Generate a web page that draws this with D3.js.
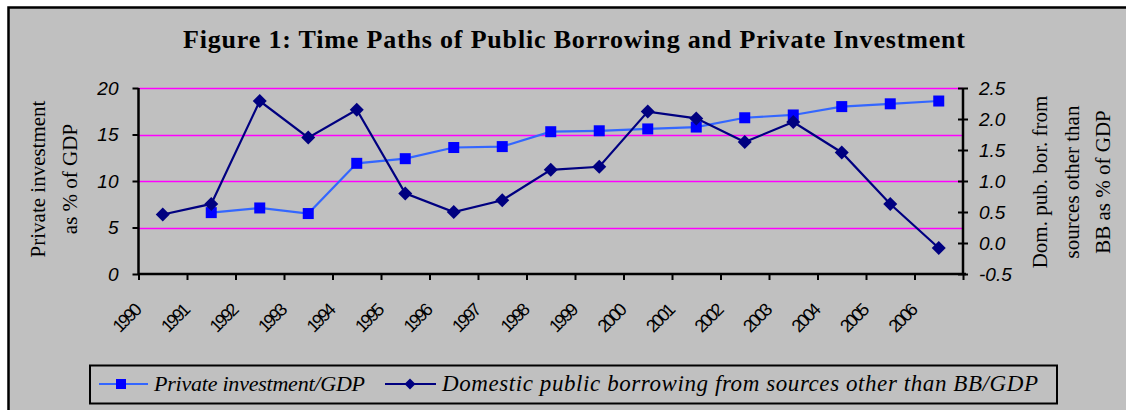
<!DOCTYPE html>
<html>
<head>
<meta charset="utf-8">
<script src="https://cdn.jsdelivr.net/npm/d3@7"></script>
<style>
  body { margin: 0; background: #ffffff; }
  svg { display: block; }
</style>
</head>
<body>
<div id="chart"></div>
<script>
// data
const years = ["1990", "1991", "1992", "1993", "1994", "1995", "1996", "1997", "1998",
  "1999", "2000", "2001", "2002", "2003", "2004", "2005", "2006"]
const privateInv = [null, 6.6, 7.1, 6.5, 11.9, 12.4, 13.6, 13.7, 15.3,
  15.4, 15.6, 15.8, 16.8, 17.1, 18.0, 18.3, 18.6]
const domBorrow = [0.46, 0.63, 2.29, 1.70, 2.15, 0.80, 0.50, 0.69, 1.18,
  1.23, 2.12, 2.01, 1.63, 1.95, 1.46, 0.63, -0.08]
const leftTicks = [0, 5, 10, 15, 20]
const rightTicks = [-0.5, 0, 0.5, 1.0, 1.5, 2.0, 2.5]

const W = 1126, H = 410
const plot = {left: 138.5, right: 963, top: 88, bottom: 274}

const svg = d3.select("#chart")
    .append("svg")
    .attr("width", W)
    .attr("height", H)

// chart area
svg.append("rect")
    .attr("x", 8.5).attr("y", 7.5)
    .attr("width", 1140).attr("height", 420)
    .attr("fill", "#c0c0c0")
    .attr("stroke", "#000").attr("stroke-width", 2.5)

const serif = "'Liberation Serif', 'Times New Roman', serif"

svg.append("text")
    .attr("x", 574).attr("y", 48)
    .attr("text-anchor", "middle")
    .attr("textLength", 782)
    .style("font-family", serif)
    .style("font-weight", "bold")
    .style("font-size", "26px")
    .text("Figure 1: Time Paths of Public Borrowing and Private Investment")

const x = d3.scaleBand().domain(years).range([plot.left, plot.right])
const xi = d3.scaleLinear().domain([0, years.length]).range([plot.left, plot.right])
const yL = d3.scaleLinear().domain([0, 20]).range([plot.bottom, plot.top])
const yR = d3.scaleLinear().domain([-0.5, 2.5]).range([plot.bottom, plot.top])

// gridlines
svg.append("g")
    .selectAll("line")
    .data(leftTicks.filter(d => d > 0))
    .enter()
    .append("line")
    .attr("x1", plot.left).attr("x2", plot.right)
    .attr("y1", d => Math.round(yL(d)) + 0.5).attr("y2", d => Math.round(yL(d)) + 0.5)
    .attr("stroke", "#ff00ff").attr("stroke-width", 1.5)

const tickFont = "'Liberation Sans', Arial, sans-serif"

const gL = svg.append("g")
    .attr("transform", `translate(${plot.left},0)`)
    .call(d3.axisLeft(yL).tickValues(leftTicks).tickSize(6).tickPadding(14).tickFormat(d3.format("d")))
gL.select(".domain").attr("d", `M0,${plot.top}V${plot.bottom}`)

const gR = svg.append("g")
    .attr("transform", `translate(${plot.right},0)`)
    .call(d3.axisRight(yR).tickValues(rightTicks).tickSize(5).tickPadding(11).tickFormat(d => d.toFixed(1)))
gR.select(".domain").attr("d", `M0,${plot.top}V${plot.bottom}`)
gR.selectAll(".tick line").attr("x1", -5)

const gB = svg.append("g")
    .attr("transform", `translate(0,${plot.bottom})`)
    .call(d3.axisBottom(xi).tickValues(d3.range(years.length + 1)).tickSize(6).tickFormat(""))
gB.select(".domain").attr("d", `M${plot.left},0H${plot.right + 3}`)

for (const g of [gL, gR, gB]) {
    g.select(".domain").attr("stroke", "#000").attr("stroke-width", 2.5)
    g.selectAll(".tick line").attr("stroke", "#000").attr("stroke-width", 2)
    g.selectAll(".tick text")
        .style("font-family", tickFont)
        .style("font-style", "italic")
        .style("font-size", "19px")
        .attr("fill", "#000")
}

// rotated year labels
svg.append("g")
    .selectAll("text")
    .data(years)
    .enter()
    .append("text")
    .attr("transform", d => `translate(${x(d) + 3},${plot.bottom + 38}) rotate(-45)`)
    .attr("text-anchor", "end")
    .style("font-family", tickFont)
    .style("font-size", "18px")
    .style("letter-spacing", "-2.4px")
    .text(d => d)

// axis titles
function vTitle(lines, xs, cy) {
    const t = svg.append("g")
    lines.forEach((s, i) => {
        t.append("text")
            .attr("transform", `translate(${xs[i]},${cy}) rotate(-90)`)
            .attr("text-anchor", "middle")
            .style("font-family", serif)
            .style("font-size", "21px")
            .text(s)
    })
}
vTitle(["Private investment", "as % of GDP"], [45, 77], 179)
vTitle(["Dom. pub. bor. from", "sources other than", "BB as % of GDP"], [1047, 1079, 1110], 182)

// series
const lineL = d3.line()
    .x(d => x(d.year) + x.bandwidth() / 2)
    .y(d => yL(d.v))
const lineR = d3.line()
    .x(d => x(d.year) + x.bandwidth() / 2)
    .y(d => yR(d.v))

const invData = years.map((y, i) => ({year: y, v: privateInv[i]})).filter(d => d.v !== null)
const borData = years.map((y, i) => ({year: y, v: domBorrow[i]}))

svg.append("path")
    .datum(invData)
    .attr("d", lineL)
    .attr("fill", "none")
    .attr("stroke", "#3366ff").attr("stroke-width", 2.2)

svg.append("path")
    .datum(borData)
    .attr("d", lineR)
    .attr("fill", "none")
    .attr("stroke", "#000080").attr("stroke-width", 2.2)

svg.append("g")
    .selectAll("rect")
    .data(invData)
    .enter()
    .append("rect")
    .attr("x", d => x(d.year) + x.bandwidth() / 2 - 5.5)
    .attr("y", d => yL(d.v) - 5.5)
    .attr("width", 11).attr("height", 11)
    .attr("fill", "#0000ff")

const diamond = "M0,-7L7,0L0,7L-7,0Z"
svg.append("g")
    .selectAll("path")
    .data(borData)
    .enter()
    .append("path")
    .attr("d", diamond)
    .attr("transform", d => `translate(${x(d.year) + x.bandwidth() / 2},${yR(d.v)})`)
    .attr("fill", "#000080")

// legend
const lg = svg.append("g")
lg.append("rect")
    .attr("x", 90).attr("y", 365.5)
    .attr("width", 967).attr("height", 38)
    .attr("fill", "none")
    .attr("stroke", "#000").attr("stroke-width", 2)

lg.append("line").attr("x1", 99).attr("x2", 148).attr("y1", 384).attr("y2", 384)
    .attr("stroke", "#3366ff").attr("stroke-width", 2.2)
lg.append("rect").attr("x", 116).attr("y", 379).attr("width", 10).attr("height", 10)
    .attr("fill", "#0000ff")
lg.append("text").attr("x", 154).attr("y", 391)
    .attr("textLength", 211)
    .style("font-family", serif).style("font-style", "italic").style("font-size", "22px")
    .text("Private investment/GDP")

lg.append("line").attr("x1", 385).attr("x2", 436).attr("y1", 384).attr("y2", 384)
    .attr("stroke", "#000080").attr("stroke-width", 2.2)
lg.append("path").attr("d", "M0,-5.5L5.5,0L0,5.5L-5.5,0Z")
    .attr("transform", "translate(410,384)")
    .attr("fill", "#000080")
lg.append("text").attr("x", 442).attr("y", 391)
    .attr("textLength", 596)
    .style("font-family", serif).style("font-style", "italic").style("font-size", "23px")
    .text("Domestic public borrowing from sources other than BB/GDP")
</script>
</body>
</html>
